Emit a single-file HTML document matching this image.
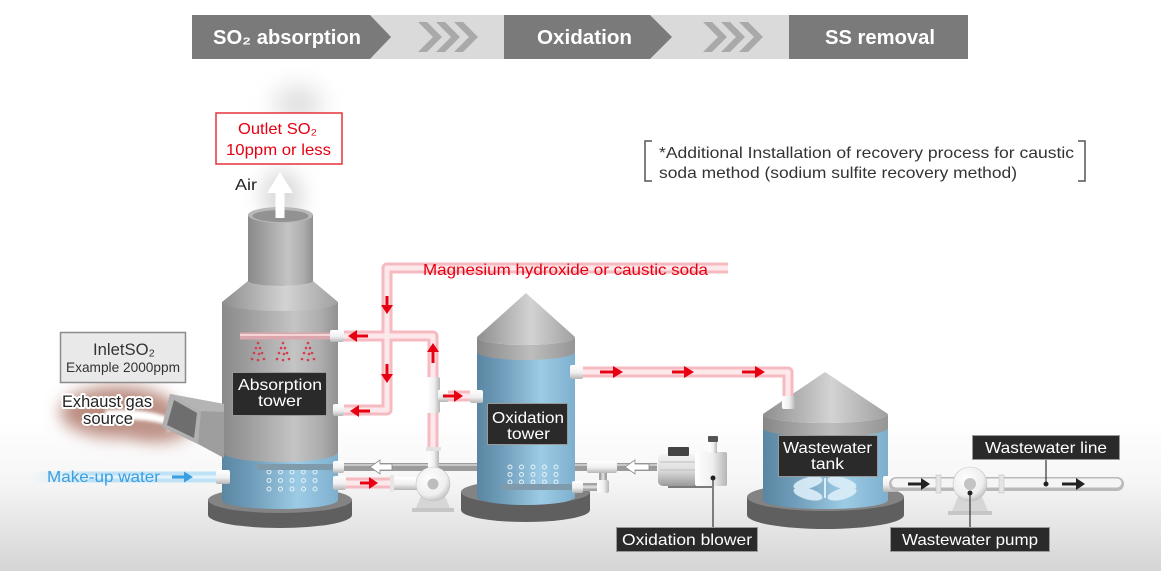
<!DOCTYPE html>
<html><head><meta charset="utf-8"><style>
html,body{margin:0;padding:0;background:#fff;overflow:hidden;}
svg{display:block;}
text{font-family:"Liberation Sans",sans-serif;}
</style></head><body>
<svg width="1161" height="571" viewBox="0 0 1161 571" xmlns="http://www.w3.org/2000/svg">
<defs>
<linearGradient id="bg" x1="0" y1="0" x2="0" y2="1"><stop offset="0" stop-color="#ffffff"/><stop offset="0.4" stop-color="#f6f6f6"/><stop offset="1" stop-color="#d5d5d5"/></linearGradient>
<linearGradient id="gray" x1="0" y1="0" x2="1" y2="0"><stop offset="0" stop-color="#8a8a8a"/><stop offset="0.2" stop-color="#9b9b9b"/><stop offset="0.62" stop-color="#c4c4c4"/><stop offset="0.85" stop-color="#adadad"/><stop offset="1" stop-color="#919191"/></linearGradient>
<linearGradient id="cone" x1="0" y1="0" x2="1" y2="0"><stop offset="0" stop-color="#8e8e8e"/><stop offset="0.55" stop-color="#d3d3d3"/><stop offset="1" stop-color="#a0a0a0"/></linearGradient>
<linearGradient id="rim" x1="0" y1="0" x2="1" y2="0"><stop offset="0" stop-color="#878787"/><stop offset="0.55" stop-color="#bdbdbd"/><stop offset="1" stop-color="#959595"/></linearGradient>
<linearGradient id="blue" x1="0" y1="0" x2="1" y2="0"><stop offset="0" stop-color="#5a86a2"/><stop offset="0.25" stop-color="#6f9cb9"/><stop offset="0.65" stop-color="#9ccbe5"/><stop offset="1" stop-color="#7eafce"/></linearGradient>
<linearGradient id="wv" x1="0" y1="0" x2="0" y2="1"><stop offset="0" stop-color="#ffffff"/><stop offset="0.55" stop-color="#efefef"/><stop offset="1" stop-color="#b5b5b5"/></linearGradient>
<linearGradient id="wh" x1="0" y1="0" x2="1" y2="0"><stop offset="0" stop-color="#ffffff"/><stop offset="0.55" stop-color="#efefef"/><stop offset="1" stop-color="#b5b5b5"/></linearGradient>
<radialGradient id="vol" cx="0.4" cy="0.35" r="0.7"><stop offset="0" stop-color="#ffffff"/><stop offset="0.7" stop-color="#eeeeee"/><stop offset="1" stop-color="#bcbcbc"/></radialGradient>
<linearGradient id="mw" gradientUnits="userSpaceOnUse" x1="30" y1="0" x2="90" y2="0"><stop offset="0" stop-color="#bfe2f6" stop-opacity="0"/><stop offset="1" stop-color="#bfe2f6"/></linearGradient>
<linearGradient id="motor" x1="0" y1="0" x2="0" y2="1"><stop offset="0" stop-color="#f4f4f4"/><stop offset="0.5" stop-color="#dedede"/><stop offset="1" stop-color="#9a9a9a"/></linearGradient>
<filter id="b10" x="-50%" y="-50%" width="200%" height="200%"><feGaussianBlur stdDeviation="10"/></filter>
<filter id="b8" x="-50%" y="-50%" width="200%" height="200%"><feGaussianBlur stdDeviation="8"/></filter>
<filter id="b12" x="-60%" y="-60%" width="220%" height="220%"><feGaussianBlur stdDeviation="12"/></filter>
<filter id="b2" x="-20%" y="-50%" width="140%" height="200%"><feGaussianBlur stdDeviation="1.5"/></filter>
</defs>

<!-- background -->
<rect x="0" y="0" width="1161" height="571" fill="#fff"/>
<rect x="0" y="420" width="1161" height="151" fill="url(#bg)"/>

<!-- banner -->
<rect x="370" y="15" width="598" height="44" fill="#dadada"/>
<polygon points="192,15 370,15 391,37 370,59 192,59" fill="#7a7a7a"/>
<polygon points="504,15 650,15 672,37 650,59 504,59" fill="#7a7a7a"/>
<rect x="789" y="15" width="179" height="44" fill="#7a7a7a"/>
<g fill="#a9a9a9">
<polygon points="418,22 427,22 442,37 427,52 418,52 433,37"/>
<polygon points="436,22 445,22 460,37 445,52 436,52 451,37"/>
<polygon points="454,22 463,22 478,37 463,52 454,52 469,37"/>
<polygon points="703,22 712,22 727,37 712,52 703,52 718,37"/>
<polygon points="721,22 730,22 745,37 730,52 721,52 736,37"/>
<polygon points="739,22 748,22 763,37 748,52 739,52 754,37"/>
</g>
<g fill="#fff" font-weight="bold" font-size="20">
<text x="213" y="44" textLength="148" lengthAdjust="spacingAndGlyphs">SO₂ absorption</text>
<text x="537" y="44" textLength="95" lengthAdjust="spacingAndGlyphs">Oxidation</text>
<text x="825" y="44" textLength="110" lengthAdjust="spacingAndGlyphs">SS removal</text>
</g>

<!-- note -->
<path d="M652,141 L645,141 L645,181 L652,181" stroke="#555" stroke-width="1.5" fill="none"/>
<path d="M1078,141 L1085,141 L1085,181 L1078,181" stroke="#555" stroke-width="1.5" fill="none"/>
<text x="659" y="158" font-size="16" fill="#333" textLength="415" lengthAdjust="spacingAndGlyphs">*Additional Installation of recovery process for caustic</text>
<text x="659" y="178" font-size="16" fill="#333" textLength="358" lengthAdjust="spacingAndGlyphs">soda method (sodium sulfite recovery method)</text>

<!-- smoke -->
<ellipse cx="298" cy="104" rx="24" ry="18" fill="#dedede" filter="url(#b12)"/>
<ellipse cx="282" cy="196" rx="20" ry="26" fill="#d9d9d9" filter="url(#b10)"/>

<!-- exhaust cloud -->
<ellipse cx="118" cy="412" rx="58" ry="26" fill="#bb8d81" filter="url(#b8)"/>
<ellipse cx="160" cy="425" rx="32" ry="17" fill="#c0958a" filter="url(#b8)"/>
<!-- white swoosh -->
<path d="M105,410 Q150,408 172,419 L168,412 L186,423 L166,432 L170,426 Q150,418 105,420 Z" fill="#fff" filter="url(#b2)"/>

<!-- air line (outside) -->
<line x1="343" y1="467" x2="657" y2="467" stroke="#9b9b9b" stroke-width="8"/>
<line x1="343" y1="465" x2="657" y2="465" stroke="#c9c9c9" stroke-width="2"/>

<!-- absorption tower -->
<path d="M208,500 L208,515 A72,13 0 0,0 352,515 L352,500 Z" fill="#5f5f5f"/>
<ellipse cx="280" cy="500" rx="72" ry="13" fill="#838383"/>
<path d="M222,445 L338,445 L338,500 A58,9 0 0,1 222,500 Z" fill="url(#blue)"/>
<path d="M222,302 L338,302 L338,452 A58,10 0 0,1 222,452 Z" fill="url(#gray)"/>
<path d="M248,281 A32.5,5 0 0,0 313,281 L338,302 A58,9 0 0,1 222,302 Z" fill="url(#cone)"/>
<path d="M248,214 L313,214 L313,281 A32.5,5 0 0,1 248,281 Z" fill="url(#gray)"/>
<ellipse cx="280.5" cy="215" rx="32.5" ry="8" fill="#b8b8b8"/>
<ellipse cx="280.5" cy="216" rx="28" ry="6" fill="#929292"/>
<!-- dots -->
<g fill="none" stroke="#e6f2f8" stroke-width="1">
<circle cx="269" cy="472" r="2"/><circle cx="280.5" cy="472" r="2"/><circle cx="292" cy="472" r="2"/><circle cx="303.5" cy="472" r="2"/><circle cx="315" cy="472" r="2"/>
<circle cx="269" cy="480.5" r="2"/><circle cx="280.5" cy="480.5" r="2"/><circle cx="292" cy="480.5" r="2"/><circle cx="303.5" cy="480.5" r="2"/><circle cx="315" cy="480.5" r="2"/>
<circle cx="269" cy="489" r="2"/><circle cx="280.5" cy="489" r="2"/><circle cx="292" cy="489" r="2"/><circle cx="303.5" cy="489" r="2"/><circle cx="315" cy="489" r="2"/>
</g>
<line x1="257" y1="467" x2="335" y2="467" stroke="#7f9aab" stroke-width="6"/>
<!-- spray pipe inside -->
<line x1="240" y1="336" x2="333" y2="336" stroke="#dba6ad" stroke-width="7"/>
<line x1="240" y1="335" x2="333" y2="335" stroke="#f3d5d8" stroke-width="2"/>
<g fill="#d63c4c">
<circle cx="258" cy="343" r="1.3"/><circle cx="256" cy="348" r="1.3"/><circle cx="260" cy="348" r="1.3"/><circle cx="254" cy="353" r="1.3"/><circle cx="259" cy="354" r="1.3"/><circle cx="262" cy="353" r="1.3"/><circle cx="252" cy="359" r="1.3"/><circle cx="258" cy="360" r="1.3"/><circle cx="264" cy="359" r="1.3"/>
<circle cx="283" cy="343" r="1.3"/><circle cx="281" cy="348" r="1.3"/><circle cx="285" cy="348" r="1.3"/><circle cx="279" cy="353" r="1.3"/><circle cx="284" cy="354" r="1.3"/><circle cx="287" cy="353" r="1.3"/><circle cx="277" cy="359" r="1.3"/><circle cx="283" cy="360" r="1.3"/><circle cx="289" cy="359" r="1.3"/>
<circle cx="308" cy="343" r="1.3"/><circle cx="306" cy="348" r="1.3"/><circle cx="310" cy="348" r="1.3"/><circle cx="304" cy="353" r="1.3"/><circle cx="309" cy="354" r="1.3"/><circle cx="312" cy="353" r="1.3"/><circle cx="302" cy="359" r="1.3"/><circle cx="308" cy="360" r="1.3"/><circle cx="314" cy="359" r="1.3"/>
</g>
<!-- duct -->
<polygon points="170,394 224,404 224,458 198,444 162,427" fill="#9e9e9e"/>
<polygon points="170,394 224,404 224,412 200,411" fill="#b4b4b4"/>
<polygon points="170,394 201,411 198,444 162,427" fill="#b0b0b0"/>
<polygon points="174,400 197,413 194,438 167,425" fill="#6e6e6e"/>

<!-- oxidation tower -->
<path d="M461,492 L461,510 A64.5,12 0 0,0 590,510 L590,492 Z" fill="#5f5f5f"/>
<ellipse cx="525.5" cy="492" rx="64.5" ry="12" fill="#838383"/>
<path d="M477,348 L575,348 L575,497 A49,8 0 0,1 477,497 Z" fill="url(#blue)"/>
<path d="M477,337 A49,8 0 0,0 575,337 L575,352 A49,8 0 0,1 477,352 Z" fill="url(#rim)"/>
<path d="M526,293 L477,337 A49,8 0 0,0 575,337 Z" fill="url(#cone)"/>
<g fill="none" stroke="#e6f2f8" stroke-width="1">
<circle cx="510" cy="467" r="2"/><circle cx="521.5" cy="467" r="2"/><circle cx="533" cy="467" r="2"/><circle cx="544.5" cy="467" r="2"/><circle cx="556" cy="467" r="2"/>
<circle cx="510" cy="474.5" r="2"/><circle cx="521.5" cy="474.5" r="2"/><circle cx="533" cy="474.5" r="2"/><circle cx="544.5" cy="474.5" r="2"/><circle cx="556" cy="474.5" r="2"/>
<circle cx="510" cy="482" r="2"/><circle cx="521.5" cy="482" r="2"/><circle cx="533" cy="482" r="2"/><circle cx="544.5" cy="482" r="2"/><circle cx="556" cy="482" r="2"/>
</g>
<line x1="500" y1="487" x2="574" y2="487" stroke="#7f9aab" stroke-width="6"/>
<!-- branch air line -->
<path d="M603,467 L603,487 L580,487" stroke="#a3a3a3" stroke-width="8" fill="none"/>
<path d="M603,467 L603,487 L580,487" stroke="#d8d8d8" stroke-width="3" fill="none"/>
<rect x="587" y="461" width="30" height="12" rx="2" fill="url(#wv)"/>
<rect x="597" y="480" width="12" height="13" rx="2" fill="url(#wh)"/>
<rect x="572" y="481" width="11" height="12" rx="2" fill="url(#wv)"/>

<!-- wastewater tank -->
<path d="M747,497 L747,515 A78.5,14 0 0,0 904,515 L904,497 Z" fill="#5f5f5f"/>
<ellipse cx="825.5" cy="497" rx="78.5" ry="14" fill="#838383"/>
<path d="M763,425 L888,425 L888,500 A62.5,9 0 0,1 763,500 Z" fill="url(#blue)"/>
<path d="M763,414 A62.5,9 0 0,0 888,414 L888,428 A62.5,9 0 0,1 763,428 Z" fill="url(#rim)"/>
<path d="M825,372 L763,414 A62.5,9 0 0,0 888,414 Z" fill="url(#cone)"/>
<g fill="#dbeef8" opacity="0.9">
<ellipse cx="808" cy="483" rx="15" ry="5.5" transform="rotate(-15 808 483)"/>
<ellipse cx="808" cy="494" rx="15" ry="5.5" transform="rotate(15 808 494)"/>
<ellipse cx="842" cy="483" rx="15" ry="5.5" transform="rotate(15 842 483)"/>
<ellipse cx="842" cy="494" rx="15" ry="5.5" transform="rotate(-15 842 494)"/>
</g>
<line x1="825" y1="478" x2="825" y2="498" stroke="#dbeef8" stroke-width="2"/>

<!-- pink pipes -->
<g fill="none" stroke-linejoin="round">
<g stroke="#f6bac1" stroke-width="11">
<path d="M728,268 L387,268 L387,410 L343,410"/>
<path d="M343,336 L433,336 L433,450"/>
<path d="M440,396 L472,396"/>
<path d="M345,483 L392,483"/>
<path d="M583,372 L788,372 L788,398"/>
</g>
<g stroke="#fde9eb" stroke-width="5">
<path d="M728,268 L387,268 L387,410 L343,410"/>
<path d="M343,336 L433,336 L433,450"/>
<path d="M440,396 L472,396"/>
<path d="M345,483 L392,483"/>
<path d="M583,372 L788,372 L788,398"/>
</g>
</g>
<!-- make-up water pipe -->
<line x1="30" y1="477" x2="220" y2="477" stroke="url(#mw)" stroke-width="11"/>
<line x1="60" y1="477" x2="220" y2="477" stroke="#e4f4fc" stroke-width="3"/>

<!-- connectors -->
<rect x="330" y="330" width="14" height="12" rx="2" fill="url(#wv)"/>
<rect x="333" y="404" width="11" height="12" rx="2" fill="url(#wv)"/>
<rect x="333" y="461" width="11" height="12" rx="2" fill="url(#wv)"/>
<rect x="333" y="476" width="13" height="14" rx="2" fill="url(#wv)"/>
<rect x="216" y="470" width="14" height="14" rx="2" fill="url(#wv)"/>
<rect x="470" y="390" width="13" height="13" rx="2" fill="url(#wv)"/>
<rect x="570" y="365" width="13" height="14" rx="2" fill="url(#wv)"/>
<rect x="782" y="396" width="13" height="13" rx="2" fill="url(#wh)"/>
<rect x="427" y="377" width="13" height="36" rx="2" fill="url(#wh)"/>
<rect x="438" y="390" width="10" height="12" rx="1" fill="url(#wv)"/>

<!-- pump 1 -->
<path d="M421,496 L445,496 L450,508 L416,508 Z" fill="#d6d6d6"/>
<rect x="412" y="508" width="42" height="4" fill="#c6c6c6"/>
<rect x="428" y="447" width="11" height="24" fill="url(#wh)"/>
<rect x="426" y="447" width="15" height="4" fill="#e2e2e2"/>
<rect x="390" y="477" width="30" height="13" fill="url(#wv)"/>
<rect x="390" y="475" width="4" height="17" fill="#e6e6e6"/>
<circle cx="433" cy="484" r="17" fill="url(#vol)" stroke="#c4c4c4" stroke-width="0.6"/>
<circle cx="433" cy="484" r="5.5" fill="#bdbdbd"/>

<!-- wastewater outlet pipe -->
<rect x="883" y="476" width="15" height="16" rx="2" fill="url(#wv)"/>
<line x1="896" y1="484" x2="1117" y2="484" stroke="#b9b9b9" stroke-width="14" stroke-linecap="round"/>
<line x1="896" y1="483" x2="1117" y2="483" stroke="#f5f5f5" stroke-width="9" stroke-linecap="round"/>
<rect x="936" y="475" width="5" height="18" fill="#e4e4e4" stroke="#c2c2c2" stroke-width="0.6"/>
<rect x="999" y="475" width="5" height="18" fill="#e4e4e4" stroke="#c2c2c2" stroke-width="0.6"/>
<!-- pump 2 -->
<path d="M958,497 L982,497 L988,511 L952,511 Z" fill="#d6d6d6"/>
<rect x="948" y="511" width="44" height="4" fill="#c6c6c6"/>
<circle cx="970" cy="484" r="17" fill="url(#vol)" stroke="#c4c4c4" stroke-width="0.6"/>
<circle cx="970" cy="484" r="6" fill="#c4c4c4"/>

<!-- blower -->
<rect x="668" y="484" width="44" height="4" fill="#7a7a7a"/>
<rect x="658" y="454" width="40" height="32" rx="5" fill="url(#motor)"/>
<g stroke="#bdbdbd" stroke-width="1"><line x1="660" y1="462" x2="696" y2="462"/><line x1="660" y1="470" x2="696" y2="470"/><line x1="660" y1="478" x2="696" y2="478"/></g>
<rect x="668" y="447" width="21" height="9" rx="1" fill="#444"/>
<rect x="695" y="452" width="32" height="34" rx="2" fill="url(#wh)"/>
<rect x="709" y="440" width="8" height="13" fill="url(#wh)"/>
<rect x="708" y="436" width="10" height="6" rx="1" fill="#555"/>

<!-- arrows -->
<g fill="#e60012">
<path d="M385.5,296 h3 v9 h4.5 l-6,9 l-6,-9 h4.5 z"/>
<path d="M385.5,364 h3 v10 h4.5 l-6,9 l-6,-9 h4.5 z"/>
<path d="M431.5,363 h3 v-11 h4.5 l-6,-9 l-6,9 h4.5 z"/>
<path d="M368,334.5 v3 h-11 v4.5 l-9,-6 l9,-6 v4.5 z"/>
<path d="M370,409.5 v3 h-11 v4.5 l-9,-6 l9,-6 v4.5 z"/>
<path d="M443,394.5 v3 h11 v4.5 l9,-6 l-9,-6 v4.5 z"/>
<path d="M360,481.5 v3 h9 v4.5 l9,-6 l-9,-6 v4.5 z"/>
<path d="M600,370.5 v3 h13 v4.5 l10,-6 l-10,-6 v4.5 z"/>
<path d="M672,370.5 v3 h12 v4.5 l10,-6 l-10,-6 v4.5 z"/>
<path d="M742,370.5 v3 h13 v4.5 l10,-6 l-10,-6 v4.5 z"/>
</g>
<g fill="#222">
<path d="M908,482.5 v3 h13 v4.5 l9,-6 l-9,-6 v4.5 z"/>
<path d="M1062,482.5 v3 h14 v4.5 l9,-6 l-9,-6 v4.5 z"/>
</g>
<g fill="#fff" stroke="#8a8a8a" stroke-width="0.8">
<path d="M370,467 l10,-7 v4 h12 v6 h-12 v4 z"/>
<path d="M625,467 l10,-7 v4 h14 v6 h-14 v4 z"/>
</g>
<path d="M172,475.5 v3 h12 v4 l9,-5.5 l-9,-5.5 v4 z" fill="#3b9ee0"/>
<!-- white up arrow -->
<rect x="275.5" y="191" width="9" height="27" fill="#fff"/>
<polygon points="267,193 280,172 293,193" fill="#fff"/>

<!-- pointer lines -->
<line x1="713" y1="478" x2="713" y2="527" stroke="#333" stroke-width="1.2"/>
<circle cx="713" cy="478" r="2.5" fill="#222"/>
<line x1="970" y1="493" x2="970" y2="527" stroke="#333" stroke-width="1.2"/>
<circle cx="970" cy="493" r="2.5" fill="#222"/>
<line x1="1046" y1="460" x2="1046" y2="484" stroke="#333" stroke-width="1.2"/>
<circle cx="1046" cy="484" r="2.5" fill="#222"/>

<!-- boxes & labels -->
<rect x="216" y="113" width="126" height="51" fill="#fff" stroke="#e8303a" stroke-width="1.5"/>
<text x="238" y="134" font-size="16" fill="#e60012" textLength="79" lengthAdjust="spacingAndGlyphs">Outlet SO₂</text>
<text x="226" y="155" font-size="16" fill="#e60012" textLength="105" lengthAdjust="spacingAndGlyphs">10ppm or less</text>
<text x="235" y="190" font-size="16" fill="#222" textLength="22" lengthAdjust="spacingAndGlyphs">Air</text>

<text x="423" y="275" font-size="16" fill="#e60012" textLength="285" lengthAdjust="spacingAndGlyphs">Magnesium hydroxide or caustic soda</text>

<rect x="60.5" y="332.5" width="125" height="50" fill="#e9e9e9" stroke="#8c8c8c" stroke-width="1.5"/>
<text x="93" y="355" font-size="17" fill="#333" textLength="62" lengthAdjust="spacingAndGlyphs">InletSO₂</text>
<text x="66" y="372" font-size="14" fill="#333" textLength="114" lengthAdjust="spacingAndGlyphs">Example 2000ppm</text>

<g font-size="17" fill="#222" stroke="#fff" stroke-width="4" paint-order="stroke" stroke-linejoin="round">
<text x="62" y="407" textLength="90" lengthAdjust="spacingAndGlyphs">Exhaust gas</text>
<text x="83" y="424" textLength="50" lengthAdjust="spacingAndGlyphs">source</text>
</g>

<text x="47" y="482" font-size="16" fill="#3b9ee0" textLength="113" lengthAdjust="spacingAndGlyphs">Make-up water</text>

<g fill="#2a2a2a" stroke="#9a9a9a" stroke-width="1">
<rect x="232.5" y="372.5" width="94" height="43"/>
<rect x="487.5" y="403.5" width="80" height="41"/>
<rect x="778.5" y="435.5" width="99" height="41"/>
<rect x="972.5" y="435.5" width="147" height="24"/>
<rect x="616.5" y="527.5" width="141" height="24"/>
<rect x="890.5" y="527.5" width="159" height="24"/>
</g>
<g fill="#fff" font-size="16">
<text x="238" y="390" textLength="84" lengthAdjust="spacingAndGlyphs">Absorption</text>
<text x="258" y="406" textLength="44" lengthAdjust="spacingAndGlyphs">tower</text>
<text x="492" y="423" textLength="72" lengthAdjust="spacingAndGlyphs">Oxidation</text>
<text x="507" y="439" textLength="43" lengthAdjust="spacingAndGlyphs">tower</text>
<text x="783" y="453" textLength="89" lengthAdjust="spacingAndGlyphs">Wastewater</text>
<text x="811" y="469" textLength="33" lengthAdjust="spacingAndGlyphs">tank</text>
<text x="985" y="453" textLength="122" lengthAdjust="spacingAndGlyphs">Wastewater line</text>
<text x="622" y="545" textLength="130" lengthAdjust="spacingAndGlyphs">Oxidation blower</text>
<text x="902" y="545" textLength="136" lengthAdjust="spacingAndGlyphs">Wastewater pump</text>
</g>
</svg>
</body></html>
